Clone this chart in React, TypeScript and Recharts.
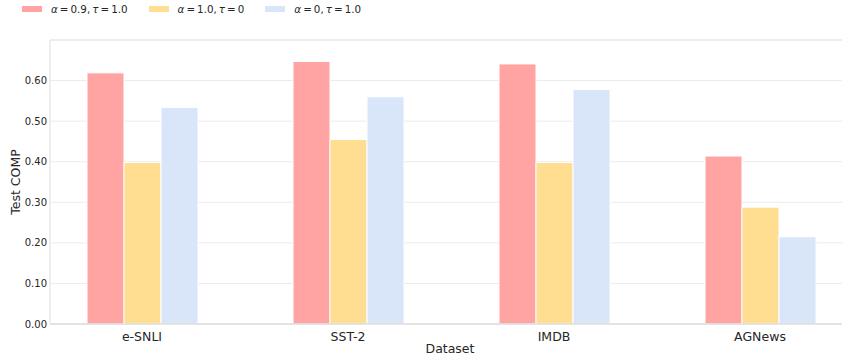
import { Bar, BarChart, CartesianGrid, Label, ReferenceLine, XAxis, YAxis } from "recharts";

const DATASETS = ["e-SNLI", "SST-2", "IMDB", "AGNews"];
const MIXED = [0.619, 0.647, 0.641, 0.414]; // alpha 0.9, tau 1.0
const HARD_ONLY = [0.398, 0.455, 0.398, 0.288]; // alpha 1.0, tau 0
const SOFT_ONLY = [0.534, 0.56, 0.578, 0.215]; // alpha 0, tau 1.0
const Y_TICKS = [0, 0.1, 0.2, 0.3, 0.4, 0.5, 0.6];

const SERIES = [
  { key: "mixed", color: "#ffa3a3", alpha: "0.9", tau: "1.0" },
  { key: "hard", color: "#ffdd91", alpha: "1.0", tau: "0" },
  { key: "soft", color: "#d9e6f9", alpha: "0", tau: "1.0" },
];

const FONT = "'DejaVu Sans', sans-serif";
const TEXT = "#262626";
const THIN = "\u2009";

const rows = DATASETS.map((name, i) => ({
  name,
  mixed: MIXED[i],
  hard: HARD_ONLY[i],
  soft: SOFT_ONLY[i],
}));

function LegendRow() {
  return (
    <div
      style={{
        position: "absolute",
        top: 3,
        left: 22,
        display: "flex",
        alignItems: "center",
        fontFamily: FONT,
        fontSize: 10.3,
        color: TEXT,
        lineHeight: "12px",
      }}
    >
      {SERIES.map((s) => (
        <div key={s.key} style={{ display: "flex", alignItems: "center", marginRight: 21 }}>
          <span style={{ display: "inline-block", width: 20, height: 6, background: s.color, marginRight: 9 }} />
          <span style={{ whiteSpace: "pre" }}>
            <i>α</i>
            {THIN + "=" + THIN + s.alpha + "," + THIN}
            <i>τ</i>
            {THIN + "=" + THIN + s.tau}
          </span>
        </div>
      ))}
    </div>
  );
}

export default function App() {
  return (
    <div style={{ position: "absolute", left: 0, top: 0, width: 842, height: 359, overflow: "hidden", background: "#fff" }}>
      <LegendRow />
      <BarChart
        width={863}
        height={359}
        data={rows}
        margin={{ top: 40, right: 0, bottom: 0, left: 0 }}
        barCategoryGap={48}
        barGap={0}
      >
        <CartesianGrid vertical={false} stroke="#ebebeb" strokeWidth={1} />
        <ReferenceLine y={0.7} stroke="#e3e3e3" strokeWidth={1.2} />
        <XAxis
          dataKey="name"
          height={35}
          padding={{ left: -11, right: 0 }}
          tickLine={false}
          axisLine={{ stroke: "#dddddd", strokeWidth: 1.5 }}
          tickMargin={2}
          tick={{ fontFamily: FONT, fontSize: 12.5, fill: TEXT }}
        >
          <Label
            content={({ viewBox }: any) => (
              <text x={450} y={viewBox.y + 29} textAnchor="middle" fontFamily={FONT} fontSize={12.5} fill={TEXT}>
                Dataset
              </text>
            )}
          />
        </XAxis>
        <YAxis
          width={50}
          domain={[0, 0.7]}
          ticks={Y_TICKS}
          tickFormatter={(v: number) => v.toFixed(2)}
          tickLine={false}
          tickSize={0}
          tickMargin={3}
          axisLine={{ stroke: "#e3e3e3", strokeWidth: 1.2 }}
          tick={{ fontFamily: FONT, fontSize: 10, fill: TEXT }}
        >
          <Label
            content={({ viewBox }: any) => (
              <text
                x={20}
                y={viewBox.y + viewBox.height / 2}
                transform={`rotate(-90 20 ${viewBox.y + viewBox.height / 2})`}
                textAnchor="middle"
                fontFamily={FONT}
                fontSize={12.5}
                fill={TEXT}
              >
                Test COMP
              </text>
            )}
          />
        </YAxis>
        {SERIES.map((s) => (
          <Bar key={s.key} dataKey={s.key} fill={s.color} stroke="#ffffff" strokeWidth={1} isAnimationActive={false} />
        ))}
      </BarChart>
    </div>
  );
}
